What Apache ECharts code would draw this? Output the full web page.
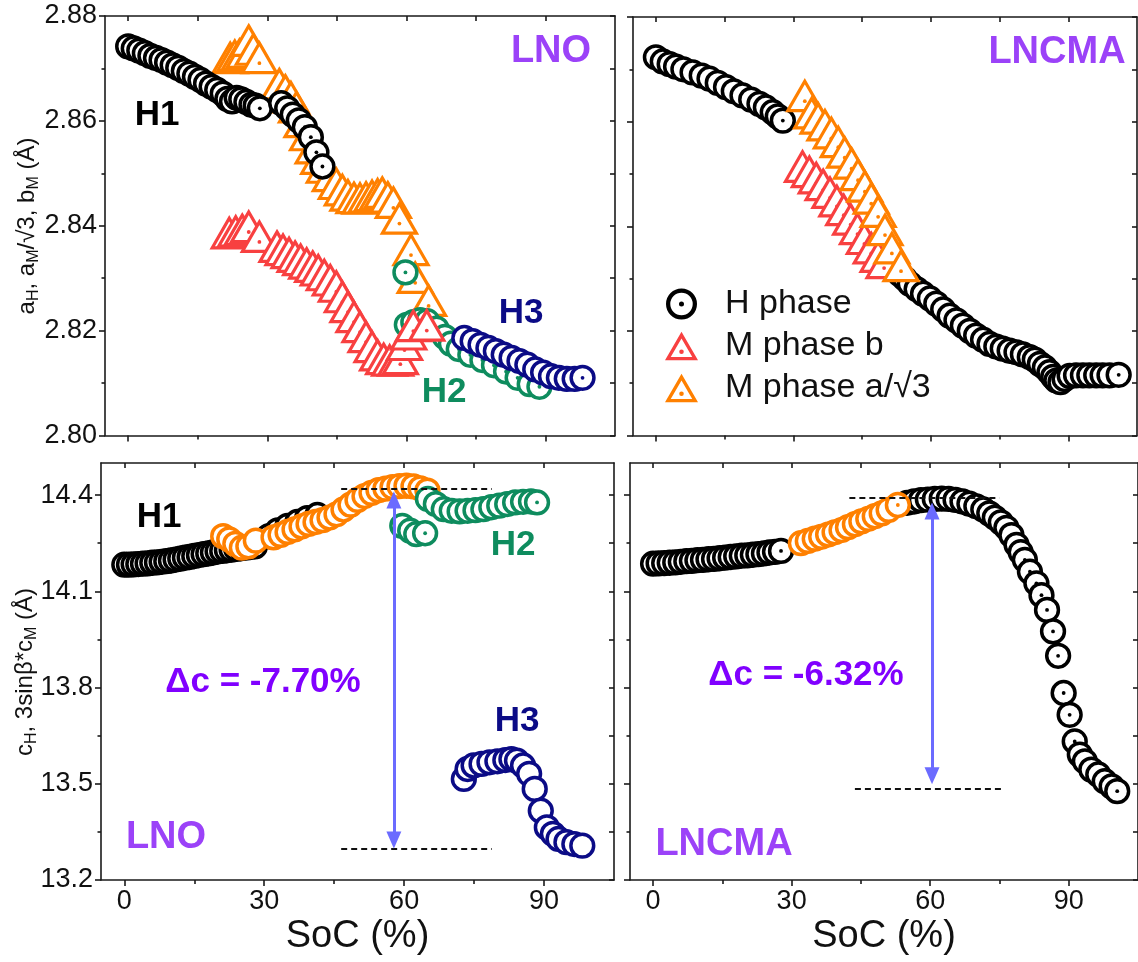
<!DOCTYPE html>
<html><head><meta charset="utf-8">
<script src="https://cdn.jsdelivr.net/npm/echarts@6/dist/echarts.min.js"></script>
<style>html,body{margin:0;padding:0;background:#fff}#c{width:1138px;height:962px}</style>
</head><body><div id="c"></div>
<script>
// ---------- axis ticks ----------
const X_MAJOR = [0, 30, 60, 90];
const X_MINOR = [15, 45, 75];
const A_MAJOR = [2.80, 2.82, 2.84, 2.86, 2.88];
const A_MINOR = [2.81, 2.83, 2.85, 2.87];
const C_MAJOR = [13.2, 13.5, 13.8, 14.1, 14.4];
const C_MINOR = [13.35, 13.65, 13.95, 14.25];

// ---------- LNO, a-parameter (top-left) ----------
const TL_H_X = [0,1.2,2.4,3.6,4.8,6,7.2,8.4,9.6,10.8,12,13.2,14.4,15.6,16.8,18,19.2,20.4,21.4,22.4,23.4,24.4,25.5,26.6,27.5,28.4,33,34.3,35.5,36.8,38.1,39.4,40.6,41.9];
const TL_H_Y = [2.8742,2.8738,2.8734,2.8729,2.8724,2.8720,2.8716,2.8711,2.8706,2.8701,2.8695,2.8690,2.8684,2.8678,2.8671,2.8665,2.8659,2.8652,2.8642,2.8637,2.8644,2.8641,2.8636,2.8631,2.8629,2.8624,2.8634,2.8624,2.8612,2.8601,2.8588,2.8569,2.8540,2.8513];
const TL_MA_X = [22,23,24,25,26,27,28.3,32.6,33.9,35.1,36.3,37.5,38.7,39.9,41.1,42.3,43.6,44.9,46.2,47.4,48.7,50,51.3,52.6,53.8,54.8,56,57.2,58.5,61,61.9,64.8];
const TL_MA_Y = [2.8712,2.8716,2.8718,2.8722,2.8745,2.8728,2.8712,2.8662,2.8650,2.8637,2.8618,2.8590,2.8565,2.8540,2.8520,2.8503,2.8487,2.8472,2.8460,2.8450,2.8445,2.8444,2.8446,2.8449,2.8452,2.8455,2.8446,2.8436,2.8406,2.8346,2.8293,2.8249];
const TL_MB_X = [21.8,23.2,24.6,26,28.3,32.1,33.4,34.7,36,37.2,38.5,39.8,41,42.3,43.6,44.9,46.2,47.4,48.7,50,51.3,52.6,53.8,55.1,56.4,57.7,58.7,59.6,60.5,61.5,64.4];
const TL_MB_Y = [2.8378,2.8381,2.8384,2.8390,2.8371,2.8352,2.8346,2.8340,2.8333,2.8327,2.8320,2.8314,2.8307,2.8298,2.8288,2.8276,2.8256,2.8237,2.8218,2.8199,2.8180,2.8161,2.8145,2.8138,2.8135,2.8135,2.8138,2.8165,2.8185,2.8201,2.8202];
const TL_H2_X = [59.8,60.1,61.5,63,64.5,66.5,68.3,69.6,71.3,73.8,76.4,78.9,81.5,84,86.6,88.7];
const TL_H2_Y = [2.8311,2.8211,2.8216,2.8220,2.8218,2.8204,2.8188,2.8175,2.8165,2.8154,2.8144,2.8134,2.8122,2.8110,2.8098,2.8093];
const TL_H3_X = [72.5,74.3,76,77.7,79.3,81,82.7,84.4,86.1,87.8,89.5,91.2,92.9,94.6,96.3,98];
const TL_H3_Y = [2.8186,2.8180,2.8173,2.8167,2.8161,2.8154,2.8148,2.8142,2.8135,2.8126,2.8120,2.8113,2.8110,2.8108,2.8108,2.8110];

// ---------- LNCMA, a-parameter (top-right) ----------
const TR_H_X = [0,1.5,3,4.4,6,8,10,11.7,13.5,15.3,17,18.9,20.8,22.6,24,25.5,26.6,27.7,53.2,54.3,55.4,56.9,58.3,59.8,61.2,62.7,64.1,65.6,67,68.5,69.9,71.4,72.8,74.3,75.7,77.2,78.7,80.1,81.6,82.7,83.8,84.9,85.9,86.7,87.4,88.3,89.2,90.3,91.7,93.2,94.6,96.1,97.5,99,101];
const TR_H_Y = [2.8723,2.8715,2.8710,2.8705,2.8700,2.8694,2.8688,2.8682,2.8674,2.8666,2.8658,2.8650,2.8642,2.8634,2.8627,2.8618,2.8610,2.8602,
  2.8309,2.8300,2.8290,2.8280,2.8271,2.8262,2.8252,2.8241,2.8229,2.8220,2.8210,2.8200,2.8191,2.8183,2.8175,2.8170,2.8166,2.8162,2.8159,2.8155,2.8150,2.8145,2.8137,2.8130,2.8121,2.8112,2.8105,2.8102,2.8108,2.8114,2.8115,2.8115,2.8115,2.8115,2.8115,2.8115,2.8116];
const TR_MB_X = [32,33.5,35,36.5,38,39.5,41,42.5,44,45.5,47,48.5,49.8];
const TR_MB_Y = [2.8506,2.8496,2.8484,2.8471,2.8456,2.8440,2.8423,2.8405,2.8387,2.8368,2.8350,2.8334,2.8322];
const TR_MA_X = [32.5,34,35.4,36.9,38.3,39.8,41.2,42.7,44.1,45.6,47,48.5,50,51.5,53.5];
const TR_MA_Y = [2.8641,2.8608,2.8598,2.8585,2.8570,2.8553,2.8533,2.8512,2.8490,2.8468,2.8445,2.8420,2.8385,2.8350,2.8316];

// ---------- LNO, c-parameter (bottom-left) ----------
const BL_H_X = [0,1,2,3,4,5,6,7,8,9,10,11,12,13,14,15,16,17,18,19,20,21,22,23,24,25,26,27,28,31,32.9,35,37.1,39.2,41.4];
const BL_H_Y = [14.183,14.183,14.184,14.185,14.186,14.187,14.189,14.190,14.192,14.194,14.196,14.199,14.202,14.205,14.207,14.210,14.213,14.216,14.218,14.221,14.224,14.226,14.228,14.230,14.232,14.234,14.236,14.238,14.240,14.272,14.290,14.304,14.316,14.328,14.338];
const BL_MA_X = [21.2,22.5,23.8,25.2,26.6,28.2,32,33.5,35,36.5,38,39.5,41,42.5,44,45.5,47,48.5,50,51.5,53,54.5,56,57.5,59,60.5,62,63.5,65];
const BL_MA_Y = [14.272,14.262,14.248,14.236,14.240,14.258,14.268,14.276,14.285,14.293,14.302,14.310,14.316,14.322,14.330,14.340,14.355,14.370,14.385,14.397,14.407,14.415,14.420,14.425,14.428,14.429,14.427,14.421,14.414];
const BL_H2_X = [59.6,61.3,62.6,64.5,65.1,66.8,68.5,70.2,71.9,73.6,75.3,77,78.7,80.4,82.1,83.8,85.5,87.2,88.5];
const BL_H2_Y = [14.304,14.289,14.278,14.281,14.388,14.372,14.356,14.351,14.349,14.351,14.353,14.356,14.362,14.367,14.372,14.377,14.379,14.380,14.377];
const BL_H3_X = [72.8,73.6,74.9,76.6,78.3,80,81.7,83,84.2,85.5,86.8,88,89.3,90.6,91.9,93.1,94.8,96.5,98.2];
const BL_H3_Y = [13.515,13.546,13.557,13.562,13.567,13.570,13.574,13.577,13.572,13.557,13.531,13.484,13.416,13.364,13.344,13.328,13.318,13.312,13.307];

// ---------- LNCMA, c-parameter (bottom-right) ----------
const BR_H_X = [0,1.2,2.4,3.6,4.8,6,7.2,8.4,9.6,10.8,12,13.2,14.4,15.6,16.8,18,19.2,20.4,21.6,22.8,24,25.2,26.4,27.7,55,56.5,58,59.5,61,62.5,64,65.5,67,68.5,70,71.5,72.8,74,75.3,76.5,77.6,78.7,79.6,80.5,81.6,83,84.1,85.3,86.6,87.7,88.9,90.2,91.3,92.4,93.5,94.9,96.4,97.8,99.3,100.5];
const BR_H_Y = [14.186,14.187,14.188,14.189,14.190,14.192,14.194,14.195,14.197,14.198,14.200,14.201,14.203,14.205,14.207,14.209,14.211,14.212,14.214,14.216,14.218,14.221,14.223,14.226,
  14.376,14.380,14.384,14.386,14.388,14.389,14.388,14.385,14.380,14.373,14.365,14.355,14.343,14.330,14.315,14.298,14.275,14.245,14.222,14.198,14.161,14.125,14.088,14.042,13.975,13.899,13.783,13.715,13.632,13.591,13.570,13.544,13.529,13.508,13.492,13.477];
const BR_MA_X = [32,33.5,35,36.4,37.9,39.3,40.8,42.2,43.7,45.1,46.6,48,49.5,51,53];
const BR_MA_Y = [14.250,14.257,14.264,14.270,14.277,14.284,14.291,14.300,14.309,14.318,14.326,14.334,14.343,14.354,14.369];

// ---------- annotations (data units) ----------
const BL_DASH_Y = [14.421, 13.298];
const BL_DASH_X = [[46.5, 78.8], [46.5, 78.8]];
const BL_ARROW_X = 57.8;
const BL_ARROW_Y = [14.385, 13.325];
const BR_DASH_Y = [14.392, 13.484];
const BR_DASH_X = [[42.5, 75.0], [43.7, 76.1]];
const BR_ARROW_X = 60.4;
const BR_ARROW_Y = [14.35, 13.525];

// ---------- style ----------
const FF = '"Liberation Sans", Arial, Helvetica, sans-serif';
const COL = {black:'#000000', orange:'#FF8000', red:'#F84040', green:'#0E8C5E', navy:'#0B0B86', purple:'#9B42F8', delta:'#8000FF', arrow:'#6B6BFF'};
const AX = {color:'#1a1a1a', width:1.6};
const grids = [
  {left:105, top:16, width:510, height:419.5},
  {left:633, top:17, width:504, height:418.5},
  {left:101, top:463, width:513, height:417},
  {left:630, top:463, width:510, height:417}
];

function zip(xs, ys) { return xs.map((x, i) => [x, ys[i]]); }

function xAxes(gi, labels) {
  return [
    {type:'value', gridIndex:gi, min:-5, max:105, position:'bottom',
     axisLine:{show:true, onZero:false, lineStyle:AX},
     axisTick:{show:true, inside:false, length:6, customValues:X_MAJOR, lineStyle:AX},
     axisLabel:{show:labels, customValues:X_MAJOR, fontSize:27, color:'#111', margin:8, fontFamily:FF},
     splitLine:{show:false},
     name: labels ? 'SoC (%)' : '', nameLocation:'middle', nameGap:38,
     nameTextStyle:{fontSize:38, color:'#111', fontFamily:FF}},
    {type:'value', gridIndex:gi, min:-5, max:105, position:'bottom',
     axisLine:{show:false, onZero:false},
     axisTick:{show:true, inside:false, length:4, customValues:X_MINOR, lineStyle:AX},
     axisLabel:{show:false}, splitLine:{show:false}},
    {type:'value', gridIndex:gi, min:-5, max:105, position:'top',
     axisLine:{show:true, onZero:false, lineStyle:AX},
     axisTick:{show:true, inside:true, length:5, customValues:X_MAJOR.concat(X_MINOR), lineStyle:AX},
     axisLabel:{show:false}, splitLine:{show:false}}
  ];
}
function yAxes(gi, isA, labels) {
  const mn = isA ? 2.80 : 13.2, mx = isA ? 2.88 : 14.5;
  const maj = isA ? A_MAJOR : C_MAJOR, mnr = isA ? A_MINOR : C_MINOR;
  const fmt = v => isA ? Number(v).toFixed(2) : Number(v).toFixed(1);
  return [
    {type:'value', gridIndex:gi, min:mn, max:mx, position:'left',
     axisLine:{show:true, onZero:false, lineStyle:AX},
     axisTick:{show:true, inside:false, length:6, customValues:maj, lineStyle:AX},
     axisLabel:{show:labels, customValues:maj, formatter:fmt, fontSize:27, color:'#111', margin:8, fontFamily:FF},
     splitLine:{show:false}},
    {type:'value', gridIndex:gi, min:mn, max:mx, position:'left',
     axisLine:{show:false, onZero:false},
     axisTick:{show:true, inside:false, length:3.5, customValues:mnr, lineStyle:AX},
     axisLabel:{show:false}, splitLine:{show:false}},
    {type:'value', gridIndex:gi, min:mn, max:mx, position:'right',
     axisLine:{show:true, onZero:false, lineStyle:AX},
     axisTick:{show:true, inside:true, length:5, customValues:maj.concat(mnr), lineStyle:AX},
     axisLabel:{show:false}, splitLine:{show:false}}
  ];
}

function circ(name, gi, xs, ys, color, dot) {
  return {
    type:'custom', name, coordinateSystem:'cartesian2d', xAxisIndex:3*gi, yAxisIndex:3*gi,
    data: zip(xs, ys), itemStyle:{color, borderWidth:0}, silent:true, clip:false,
    renderItem: (params, api) => {
      const p = api.coord([api.value(0), api.value(1)]);
      const ch = [{type:'circle', shape:{cx:p[0], cy:p[1], r:11.4}, style:{fill:'#fff', stroke:color, lineWidth:3.5}}];
      if (dot) ch.push({type:'circle', shape:{cx:p[0], cy:p[1], r:1.9}, style:{fill:color}});
      return {type:'group', children:ch};
    }
  };
}
function tri(name, gi, xs, ys, color, dot) {
  return {
    type:'custom', name, coordinateSystem:'cartesian2d', xAxisIndex:3*gi, yAxisIndex:3*gi,
    data: zip(xs, ys), itemStyle:{color, borderWidth:0}, silent:true, clip:false,
    renderItem: (params, api) => {
      const p = api.coord([api.value(0), api.value(1)]);
      const ch = [{type:'polygon', shape:{points:[[p[0], p[1]-19], [p[0]+17, p[1]+10.5], [p[0]-17, p[1]+10.5]]},
                   style:{fill:'#fff', stroke:color, lineWidth:3.2, lineJoin:'miter'}}];
      if (dot) ch.push({type:'circle', shape:{cx:p[0], cy:p[1]+1, r:1.9}, style:{fill:color}});
      return {type:'group', children:ch};
    }
  };
}
function annot(gi, dashY, dashX, arrowX, arrowY) {
  return {
    type:'scatter', xAxisIndex:3*gi, yAxisIndex:3*gi, data:[], silent:true,
    markLine:{
      silent:true, animation:false, label:{show:false},
      data: [
        [{coord:[dashX[0][0], dashY[0]], symbol:'none', lineStyle:{type:[6,4], color:'#111', width:2}},
         {coord:[dashX[0][1], dashY[0]], symbol:'none'}],
        [{coord:[dashX[1][0], dashY[1]], symbol:'none', lineStyle:{type:[6,4], color:'#111', width:2}},
         {coord:[dashX[1][1], dashY[1]], symbol:'none'}],
        [{coord:[arrowX, arrowY[0]], symbol:'triangle', symbolSize:[15,17], lineStyle:{type:'solid', color:COL.arrow, width:3}},
         {coord:[arrowX, arrowY[1]], symbol:'triangle', symbolSize:[15,17]}]
      ],
      itemStyle:{color:COL.arrow},
      emphasis:{disabled:true}
    }
  };
}

const ICON_CIRC = 'path://M1.5,12A10.5,10.5 0 1,1 22.5,12A10.5,10.5 0 1,1 1.5,12ZM4.4,12A7.6,7.6 0 1,0 19.6,12A7.6,7.6 0 1,0 4.4,12ZM10.3,12A1.7,1.7 0 1,1 13.7,12A1.7,1.7 0 1,1 10.3,12Z';
const ICON_TRI = 'path://M12,1L23.5,21L0.5,21ZM12,5.8L4.5,18.7L19.5,18.7ZM10.4,15A1.6,1.6 0 1,1 13.6,15A1.6,1.6 0 1,1 10.4,15Z';

function txt(t, x, y, color, size, bold) {
  return {type:'text', x, y, z:100, silent:true,
    style:{text:t, fill:color, fontSize:size, fontWeight:bold ? 'bold' : 'normal', fontFamily:FF,
           align:'center', verticalAlign:'middle', textAlign:'center', textVerticalAlign:'middle'}};
}
function yname(t, x, y) {
  return {type:'text', x, y, rotation:Math.PI/2, z:100, silent:true,
    style:{text:t, align:'center', verticalAlign:'middle', textAlign:'center', textVerticalAlign:'middle',
      fill:'#111', fontSize:24, fontFamily:FF,
      rich:{n:{fontSize:24, fontFamily:FF, fill:'#111', color:'#111', lineHeight:30},
            s:{fontSize:16, fontFamily:FF, fill:'#111', color:'#111', lineHeight:15, verticalAlign:'bottom'}}}};
}

const option = {
  backgroundColor:'#fff',
  animation:false,
  textStyle:{fontFamily:FF},
  grid: grids,
  xAxis: [].concat(xAxes(0,false), xAxes(1,false), xAxes(2,true), xAxes(3,true)),
  yAxis: [].concat(yAxes(0,true,true), yAxes(1,true,false), yAxes(2,false,true), yAxes(3,false,false)),
  legend: {
    orient:'vertical', left:660, top:282, itemWidth:33, itemHeight:31, itemGap:8,
    selectedMode:false, itemStyle:{borderWidth:0},
    textStyle:{fontSize:34, color:'#111', fontFamily:FF, padding:[0,0,0,22], lineHeight:31},
    data:[{name:'H phase', icon:ICON_CIRC}, {name:'M phase b', icon:ICON_TRI}, {name:'M phase a/√3', icon:ICON_TRI}]
  },
  series: [
    // top-left
    tri('LNO a M a', 0, TL_MA_X, TL_MA_Y, COL.orange, true),
    circ('LNO a H1', 0, TL_H_X, TL_H_Y, COL.black, true),
    circ('LNO a H2', 0, TL_H2_X, TL_H2_Y, COL.green, true),
    tri('LNO a M b', 0, TL_MB_X, TL_MB_Y, COL.red, true),
    circ('LNO a H3', 0, TL_H3_X, TL_H3_Y, COL.navy, true),
    // top-right
    circ('H phase', 1, TR_H_X, TR_H_Y, COL.black, true),
    tri('M phase b', 1, TR_MB_X, TR_MB_Y, COL.red, true),
    tri('M phase a/√3', 1, TR_MA_X, TR_MA_Y, COL.orange, true),
    // bottom-left
    circ('LNO c H1', 2, BL_H_X, BL_H_Y, COL.black, false),
    circ('LNO c M', 2, BL_MA_X, BL_MA_Y, COL.orange, false),
    circ('LNO c H2', 2, BL_H2_X, BL_H2_Y, COL.green, true),
    circ('LNO c H3', 2, BL_H3_X, BL_H3_Y, COL.navy, false),
    annot(2, BL_DASH_Y, BL_DASH_X, BL_ARROW_X, BL_ARROW_Y),
    // bottom-right
    circ('LNCMA c H', 3, BR_H_X, BR_H_Y, COL.black, true),
    circ('LNCMA c M', 3, BR_MA_X, BR_MA_Y, COL.orange, true),
    annot(3, BR_DASH_Y, BR_DASH_X, BR_ARROW_X, BR_ARROW_Y)
  ],
  graphic: [
    yname('{n|a}{s|H}{n|, a}{s|M}{n|/√3, b}{s|M}{n| (Å)}', 27, 226),
    yname('{n|c}{s|H}{n|, 3sinβ*c}{s|M}{n| (Å)}', 25, 672),
    txt('LNO', 551, 52, COL.purple, 38, true),
    txt('H1', 157, 115, '#000', 35, true),
    txt('H3', 521, 313, COL.navy, 35, true),
    txt('H2', 444, 392, COL.green, 35, true),
    txt('LNCMA', 1057, 53, COL.purple, 38, true),
    txt('H1', 159, 517, '#000', 35, true),
    txt('H2', 513, 545, COL.green, 35, true),
    txt('H3', 517, 721, COL.navy, 35, true),
    txt('Δc = -7.70%', 263, 682, COL.delta, 35, true),
    txt('LNO', 166, 838, COL.purple, 38, true),
    txt('Δc = -6.32%', 806, 675, COL.delta, 35, true),
    txt('LNCMA', 724, 845, COL.purple, 38, true)
  ]
};
const chart = echarts.init(document.getElementById('c'), null, {renderer:'canvas'});
chart.setOption(option);
</script>
</body></html>
